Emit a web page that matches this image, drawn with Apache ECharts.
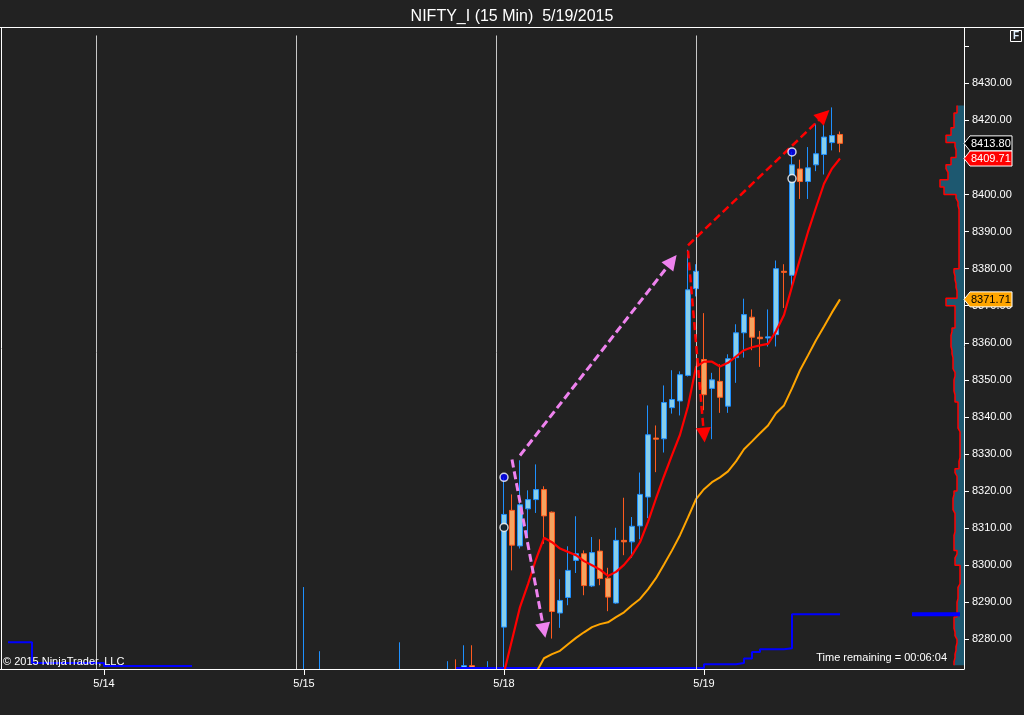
<!DOCTYPE html>
<html><head><meta charset="utf-8">
<script src="https://cdn.jsdelivr.net/npm/echarts/dist/echarts.min.js"></script>
<style>html,body{margin:0;padding:0;background:#222222;}#c{width:1024px;height:715px;}</style>
</head><body><div id="c"></div>
<script>
// ---------- categories / tick labels ----------
const sessionTimes = ['09:30','09:45','10:00','10:15','10:30','10:45','11:00','11:15','11:30','11:45','12:00','12:15','12:30','12:45','13:00','13:15','13:30','13:45','14:00','14:15','14:30','14:45','15:00','15:15','15:30'];
const dayNames = ['5/13','5/14','5/15','5/18','5/19'];
const firstDayVisibleBars = 12;   // only last 12 bars of 5/13 are in view
const futureSlots = 8;            // empty right margin slots
const categories = [];
dayNames.forEach((d, di) => {
  const t = di === 0 ? sessionTimes.slice(sessionTimes.length - firstDayVisibleBars) : sessionTimes;
  t.forEach(s => categories.push(d + ' ' + s));
});
for (let k = 1; k <= futureSlots; k++) categories.push('next ' + k);
const dayStartIdx = [];
categories.forEach((c, i) => { if (c.endsWith('09:30')) dayStartIdx.push(i); });
const separatorIdx = dayStartIdx.map(i => i - 1);

// ---------- candles (bar index, O, H, L, C) ----------
const barIdx = [37,39,49,55,56,57,58,60,
  62,63,64,65,66,67,68,69,70,71,72,73,74,75,76,77,78,79,80,81,82,83,84,85,86,
  87,88,89,90,91,92,93,94,95,96,97,98,99,100,101,102,103,104];
const opens = [8262,8260,8262,8264,8268,8266,8272.9,8264,
  8283.3,8314.8,8305.2,8315.2,8317.7,8320.4,8314.3,8287.1,8291.3,8301.3,8303.1,8294.4,8303.8,8296.5,8289.8,8306.7,8306.3,8310.6,8318.4,8334.3,8334.1,8342.5,8344.3,8351.2,8374.6,
  8355.5,8347.7,8349.6,8342.9,8356.0,8362.7,8366.9,8361.5,8361.3,8362.2,8379.3,8378.2,8406.9,8403.5,8408.0,8410.8,8414.0,8416.2];
const highs = [8294.1,8276.8,8279.2,8274.1,8274.6,8278.4,8278.4,8274.1,
  8323.7,8319.1,8328.3,8320.2,8327.2,8321.3,8314.5,8296.2,8305.1,8313.2,8304.0,8307.6,8307.0,8299.3,8310.1,8318.2,8313.0,8325.0,8343.1,8337.7,8348.5,8352.6,8352.3,8385.1,8381.2,
  8368.0,8351.9,8354.2,8356.9,8365.0,8371.9,8369.0,8363.2,8369.0,8382.2,8381.2,8411.5,8409.4,8412.8,8419.1,8420.0,8423.5,8417.0];
const lows = [8258,8256,8258,8260,8261,8263,8266,8261,
  8266.0,8298.6,8304.5,8307.3,8314.1,8305.8,8280.2,8283.1,8289.2,8297.9,8291.9,8294.1,8294.6,8287.6,8289.6,8302.7,8302.0,8307.0,8312.7,8325.1,8330.4,8340.9,8340.4,8350.9,8372.5,
  8341.8,8334.0,8341.1,8341.1,8349.2,8356.0,8358.0,8353.5,8359.0,8359.0,8369.4,8375.0,8398.8,8398.8,8406.3,8405.4,8411.9,8411.4];
const closes = [8266,8264,8266,8268,8265,8272.9,8268,8268,
  8313.7,8305.4,8316.3,8317.7,8320.4,8313.3,8287.5,8290.5,8298.6,8303.1,8294.5,8303.4,8296.4,8291.4,8306.7,8306.3,8310.5,8319.1,8335.2,8334.0,8343.9,8344.7,8351.4,8374.3,8379.3,
  8346.0,8350.0,8345.3,8355.7,8362.7,8367.6,8361.5,8361.1,8361.6,8380.0,8379.0,8408.0,8403.5,8407.2,8411.0,8415.5,8415.9,8413.8];

// ---------- indicator lines ----------
const redStart = 62;
const redMA = [8271.0,8279.8,8288.7,8294.9,8301.6,8307.4,8306.2,8304.5,8303.6,8302.7,8301.1,8300.0,8298.8,8297.1,8298.2,8300.1,8302.7,8306.2,8311.7,8318.0,8324.0,8329.7,8335.2,8342.9,8353.5,
  8354.9,8354.9,8353.6,8354.6,8356.3,8358.0,8358.8,8359.3,8359.7,8363.1,8367.5,8375.2,8382.6,8389.9,8396.5,8402.9,8407.0,8409.71];
const orangeStart = 66;
const orangeMA = [8271.0,8274.9,8276.0,8276.9,8278.7,8280.4,8281.9,8283.3,8284.1,8284.6,8286.0,8287.3,8289.2,8290.9,8293.5,8296.5,8300.2,8304.0,8308.1,8312.9,8317.8,
  8320.5,8322.4,8323.7,8325.3,8328.0,8331.3,8333.4,8335.6,8337.7,8341.0,8343.1,8347.7,8352.6,8356.6,8360.7,8364.4,8368.2,8371.71];
// blue step line: run start index and level (null = out of view)
const blueRunStart = [0, 3, 12, 23, 56, 87, 91, 92, 93, 94, 97, 98, 104];
const blueRunLevel = [8279.2, 8273.6, 8272.8, null, 8272.3, 8273.3, 8273.6, 8274.8, 8276.6, 8277.3, 8277.6, 8286.8, null];
const blueLevelFrom = 113, blueLevelTo = 119, blueLevelValue = 8286.8;

// markers (dots)
const blueDots = [[62, 8323.7], [98, 8411.5]];
const blackDots = [[62, 8310.2], [98, 8404.3]];

// price flags on the axis
const lastPrice = 8413.80, redLast = 8409.71, orangeLast = 8371.71;

// drawn arrows: [fromIdx, fromPrice, toIdx, toPrice]
const violetArrows = [[63, 8328.5, 67, 8282.4], [64, 8329.6, 83, 8382.1]];
const redArrows = [[85, 8384.9, 87, 8335.1], [85, 8386.3, 102, 8421.4]];

// volume profile (2-point price levels from 8272 upward, width units)
const profileStep = 2, profileLow = 8272, profileHigh = 8446;
const profileWidths = [10, 9, 8, 7, 9, 10, 10, 7, 7, 6,
  6, 4, 4, 4, 9, 7, 10, 10, 9, 9,
  9, 11, 11, 10, 7, 7, 9, 5, 4, 4,
  4, 4, 6, 6, 6, 6, 9, 10, 10, 9,
  11, 11, 12, 13, 13, 12, 9, 9, 9, 18,
  7, 8, 9, 10, 5, 5, 5, 5, 5, 5,
  5, 5, 6, 8, 20, 24, 16, 18, 13, 8,
  9, 18, 13, 10, 10, 7];

// ---------- build series data ----------
const N = categories.length;
const candleData = new Array(N).fill('-');
barIdx.forEach((i, k) => { candleData[i] = [opens[k], closes[k], lows[k], highs[k]]; });
const redData = new Array(N).fill(null);
redMA.forEach((v, k) => { redData[redStart + k] = v; });
const orangeData = new Array(N).fill(null);
orangeMA.forEach((v, k) => { orangeData[orangeStart + k] = v; });
const blueData = new Array(N).fill(null);
for (let r = 0; r < blueRunStart.length - 1; r++) {
  for (let i = blueRunStart[r]; i < blueRunStart[r + 1]; i++) blueData[i] = blueRunLevel[r];
}
const blueLevelData = new Array(N).fill(null);
for (let i = blueLevelFrom; i <= blueLevelTo; i++) blueLevelData[i] = blueLevelValue;
const profileLevels = [];
for (let p = profileLow; p < profileHigh; p += profileStep) profileLevels.push(String(p + profileStep / 2));
const profileData = profileLevels.map((_, k) => k < profileWidths.length ? profileWidths[k] : null);

function arrowLines(list, color, width) {
  return list.map(a => {
    const ls = { color: color, width: width, type: [8, 4] };
    return [{ coord: [a[0], a[1]], lineStyle: ls }, { coord: [a[2], a[3]], lineStyle: ls }];
  });
}

const FONT = 'Liberation Sans, Arial, sans-serif';
const chart = echarts.init(document.getElementById('c'));
const option = {
  backgroundColor: '#222222',
  animation: false,
  textStyle: { fontFamily: FONT },
  title: {
    text: 'NIFTY_I (15 Min)  5/19/2015', left: 'center', top: 4,
    textStyle: { color: '#ffffff', fontSize: 16, fontWeight: 'normal', fontFamily: FONT }
  },
  grid: [
    { left: 4, width: 960, top: 24, bottom: 46, containLabel: false, outerBoundsMode: 'none', show: false },
    { left: 874, width: 90, top: 24, bottom: 46, containLabel: false, outerBoundsMode: 'none', show: false }
  ],
  xAxis: [
    {
      type: 'category', gridIndex: 0, data: categories, boundaryGap: true, z: 20,
      axisLine: { show: true, lineStyle: { color: '#ffffff', width: 1 } },
      axisTick: { show: true, alignWithLabel: true, length: 6, interval: (i) => dayStartIdx.includes(i), lineStyle: { color: '#ffffff' } },
      axisLabel: { show: true, interval: (i) => dayStartIdx.includes(i), formatter: v => v.split(' ')[0], color: '#ffffff', fontSize: 11, margin: 9, fontFamily: FONT },
      splitLine: { show: false }
    },
    { type: 'value', gridIndex: 1, inverse: true, min: 0, max: 90, show: false }
  ],
  yAxis: [
    {
      type: 'value', gridIndex: 0, position: 'right', min: profileLow, max: profileHigh, z: 20,
      minInterval: 10, maxInterval: 10, splitNumber: 17,
      axisLine: { show: true, lineStyle: { color: '#ffffff', width: 1 } },
      axisTick: { show: true, length: 5, lineStyle: { color: '#ffffff' } },
      axisLabel: {
        show: true, color: '#ffffff', fontSize: 11, margin: 8, fontFamily: FONT,
        showMinLabel: false, showMaxLabel: false,
        formatter: v => (Math.abs(v / 10 - Math.round(v / 10)) < 1e-6 && v <= 8430) ? v.toFixed(2) : ''
      },
      splitLine: { show: false }
    },
    { type: 'category', gridIndex: 1, data: profileLevels, boundaryGap: true, show: false }
  ],
  series: [
    {
      name: 'profile', type: 'line', xAxisIndex: 1, yAxisIndex: 1, data: profileData,
      step: 'middle', symbol: 'none', z: 1,
      lineStyle: { color: '#ff0000', width: 1.5 },
      areaStyle: { color: '#1d5870', opacity: 1 }
    },
    {
      name: 'NIFTY_I', type: 'candlestick', xAxisIndex: 0, yAxisIndex: 0, data: candleData,
      barWidth: 5, z: 2,
      itemStyle: { color: '#87CEEB', color0: '#F4A460', borderColor: '#1E90FF', borderColor0: '#FF5A1E', borderWidth: 1 },
      markLine: {
        silent: true, animation: false, symbol: ['none', 'none'], label: { show: false },
        lineStyle: { color: '#c8c8c8', width: 1, type: 'solid' },
        data: separatorIdx.map(i => [{ coord: [i, 8442.9] }, { coord: [i, profileLow] }])
      }
    },
    {
      name: 'blue', type: 'line', data: blueData, step: 'end', symbol: 'none', z: 3,
      lineStyle: { color: '#0000ff', width: 2 }
    },
    {
      name: 'blueLevel', type: 'line', data: blueLevelData, symbol: 'none', z: 3,
      lineStyle: { color: '#0000ff', width: 4 }
    },
    {
      name: 'orangeMA', type: 'line', data: orangeData, symbol: 'none', z: 3,
      lineStyle: { color: '#FFA500', width: 2 }
    },
    {
      name: 'redMA', type: 'line', data: redData, symbol: 'none', z: 4,
      lineStyle: { color: '#ff0000', width: 2.2 },
      markLine: {
        silent: true, animation: false, symbol: ['none', 'triangle'], symbolSize: 15,
        label: { show: false },
        data: arrowLines(violetArrows, '#EE82EE', 3).concat(arrowLines(redArrows, '#ff0000', 2.5))
      }
    },
    {
      name: 'hiDots', type: 'scatter', data: blueDots, symbol: 'circle', symbolSize: 8, z: 6,
      itemStyle: { color: '#0000ff', borderColor: '#ffffff', borderWidth: 1.5 }
    },
    {
      name: 'loDots', type: 'scatter', data: blackDots, symbol: 'circle', symbolSize: 8, z: 6,
      itemStyle: { color: '#000000', borderColor: '#ffffff', borderWidth: 1.5 }
    }
  ]
};
chart.setOption(option);

function txt(x, y, text, size, color, align, weight) {
  return { type: 'text', x: x, y: y, z: 60,
    style: { text: text, fill: color, font: (weight || 'normal') + ' ' + size + 'px ' + FONT,
      textAlign: align || 'left', textVerticalAlign: 'middle', align: align || 'left', verticalAlign: 'middle' } };
}
function flag(val, bg, fg) {
  const y = chart.convertToPixel({ yAxisIndex: 0 }, val);
  return { type: 'group', z: 80, children: [
    { type: 'polygon', z: 80, shape: { points: [[964, y], [970, y - 7.5], [1012, y - 7.5], [1012, y + 7.5], [970, y + 7.5]] },
      style: { fill: bg, stroke: '#ffffff', lineWidth: 1 } },
    { type: 'text', x: 971, y: y + 0.5, z: 81,
      style: { text: val.toFixed(2), fill: fg, font: '11px ' + FONT, textVerticalAlign: 'middle', verticalAlign: 'middle' } }
  ] };
}
chart.setOption({
  graphic: [
    { type: 'rect', z: 10, shape: { x: 0, y: 670, width: 964, height: 45 }, style: { fill: '#222222' } },
    { type: 'rect', z: 50, shape: { x: 950, y: 0, width: 40, height: 27 }, style: { fill: '#222222' } },
    { type: 'line', z: 55, shape: { x1: 0, y1: 27.5, x2: 1024, y2: 27.5 }, style: { stroke: '#ffffff', lineWidth: 1 } },
    { type: 'line', z: 55, shape: { x1: 1.5, y1: 27.5, x2: 1.5, y2: 669.5 }, style: { stroke: '#ffffff', lineWidth: 1 } },
    { type: 'line', z: 55, shape: { x1: 0, y1: 669.5, x2: 964, y2: 669.5 }, style: { stroke: '#ffffff', lineWidth: 1 } },
    { type: 'rect', z: 55, shape: { x: 1010.5, y: 30.5, width: 11, height: 11 }, style: { fill: '#222222', stroke: '#ffffff', lineWidth: 1 } },
    txt(1016, 36.5, 'F', 10, '#e0f0ff', 'center', 'bold'),
    txt(3, 662, '\u00A9 2015 NinjaTrader, LLC', 11, '#ffffff', 'left'),
    txt(947, 658, 'Time remaining = 00:06:04', 11, '#ffffff', 'right'),
    flag(lastPrice, '#000000', '#ffffff'),
    flag(redLast, '#ff0000', '#ffffff'),
    flag(orangeLast, '#FFA500', '#000000')
  ]
});
</script></body></html>
